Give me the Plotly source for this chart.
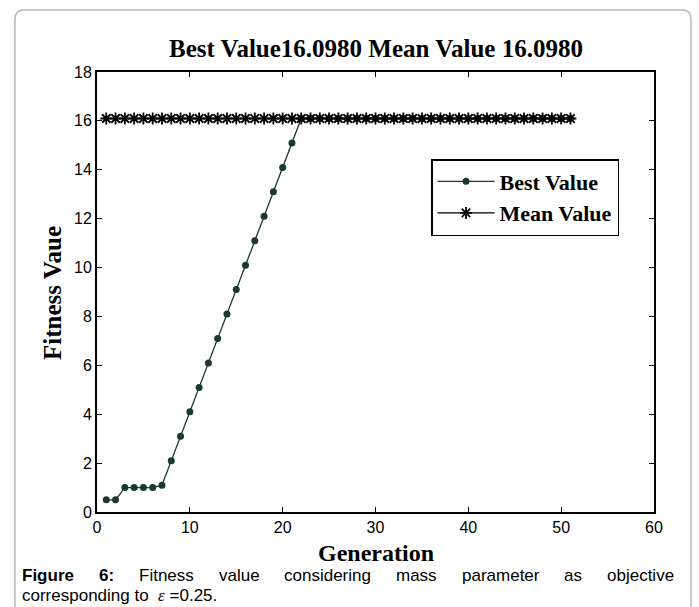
import plotly.graph_objects as go

# ---- data ----
generation = list(range(1, 52))
best_value = [0.5, 0.5, 1.0, 1.0, 1.0, 1.0, 1.098, 2.098, 3.098, 4.098, 5.098,
              6.098, 7.098, 8.098, 9.098, 10.098, 11.098, 12.098, 13.098, 14.098,
              15.098] + [16.098] * 30
mean_value = [16.098] * 51
x_ticks = [0, 10, 20, 30, 40, 50, 60]
y_ticks = [0, 2, 4, 6, 8, 10, 12, 14, 16, 18]

W, H = 699, 607
L, R, T, B = 97, 654, 72, 512
PW, PH = R - L, B - T


def px(x):
    return (x - L) / PW


def py(y):
    return (B - y) / PH


SERIF = "Liberation Serif, Times New Roman, serif"
SANS = "Liberation Sans, Arial, sans-serif"

fig = go.Figure()
fig.add_trace(go.Scatter(
    x=generation, y=best_value, name="<b>Best Value</b>", mode="lines+markers",
    line=dict(color="#1b3a29", width=1.3),
    marker=dict(symbol="circle", size=7, color="#1b3a29"),
))
fig.add_trace(go.Scatter(
    x=generation, y=mean_value, name="<b>Mean Value</b>", mode="lines+markers",
    line=dict(color="black", width=1.2),
    marker=dict(symbol="asterisk-open", size=10, color="black",
                line=dict(color="black", width=1.8)),
))

axis_common = dict(
    showline=True, linecolor="black", linewidth=1.8, mirror="ticks",
    ticks="inside", ticklen=5, tickwidth=1.2, tickcolor="black",
    showgrid=False, zeroline=False,
    tickfont=dict(family=SANS, size=16, color="black"),
)
fig.update_xaxes(range=[0, 60], tickvals=x_ticks, **axis_common)
fig.update_yaxes(range=[0, 18], tickvals=y_ticks, **axis_common)

annotations = [
    dict(text="<b>Best Value16.0980 Mean Value 16.0980</b>", x=0.5, y=py(48),
         xref="paper", yref="paper", showarrow=False,
         font=dict(family=SERIF, size=25, color="black"), xanchor="center", yanchor="middle"),
    dict(text="<b>Generation</b>", x=0.5, y=py(553),
         xref="paper", yref="paper", showarrow=False,
         font=dict(family=SERIF, size=24, color="black"), xanchor="center", yanchor="middle"),
    dict(text="<b>Fitness Vaue</b>", x=px(52), y=py(293), textangle=-90,
         xref="paper", yref="paper", showarrow=False,
         font=dict(family=SERIF, size=25, color="black"), xanchor="center", yanchor="middle"),
]

# caption, line 1 justified
reg = dict(a=556, b=556, c=500, d=556, e=556, f=278, g=556, h=556, i=222, j=222,
           k=500, l=222, m=833, n=556, o=556, p=556, q=556, r=333, s=500, t=278,
           u=556, v=500, w=722, x=500, y=500, z=500, F=611)
bold = dict(F=611, i=278, g=611, u=611, r=389, e=556)
bold.update({"6": 556, ":": 333})
words = [("Figure", True), ("6:", True), ("Fitness", False), ("value", False),
         ("considering", False), ("mass", False), ("parameter", False),
         ("as", False), ("objective", False)]
FS = 17


def wid(wd, b):
    tab = bold if b else reg
    return sum(tab.get(ch, 556) for ch in wd) * FS / 1000


left, right = 20, 672
widths = [wid(w, b) for w, b in words]
gap = (right - left - sum(widths)) / (len(words) - 1)
xpos = left
for (w, b), ww in zip(words, widths):
    annotations.append(dict(
        text=f"<b>{w}</b>" if b else w, x=px(xpos), y=py(575),
        xref="paper", yref="paper", showarrow=False, xanchor="left", yanchor="middle",
        font=dict(family=SANS, size=FS, color="black")))
    xpos += ww + gap

annotations.append(dict(
    text="corresponding to  <span style='font-family:Liberation Serif'><i>ε</i></span> =0.25.",
    x=px(left), y=py(595), xref="paper", yref="paper", showarrow=False,
    xanchor="left", yanchor="middle", font=dict(family=SANS, size=FS, color="black")))

# rounded light-gray frame (open at the bottom)
fl, ft, fr, fb, rad = 15, 10, 691, 620, 9
path = (f"M {px(fl)},{py(fb)} L {px(fl)},{py(ft + rad)} "
        f"Q {px(fl)},{py(ft)} {px(fl + rad)},{py(ft)} "
        f"L {px(fr - rad)},{py(ft)} Q {px(fr)},{py(ft)} {px(fr)},{py(ft + rad)} "
        f"L {px(fr)},{py(fb)}")
shapes = [dict(type="path", path=path, xref="paper", yref="paper",
               line=dict(color="#b8b8b8", width=1.5), layer="below")]

fig.update_layout(
    width=W, height=H, margin=dict(l=L, r=W - R, t=T, b=H - B),
    paper_bgcolor="white", plot_bgcolor="white",
    showlegend=True,
    legend=dict(x=px(431), y=py(159), xanchor="left", yanchor="top",
                bgcolor="white", bordercolor="black", borderwidth=1.5,
                font=dict(family=SERIF, size=22, color="black"),
                itemwidth=57, tracegroupgap=0),
    annotations=annotations, shapes=shapes,
)

fig.write_html("out.html")
